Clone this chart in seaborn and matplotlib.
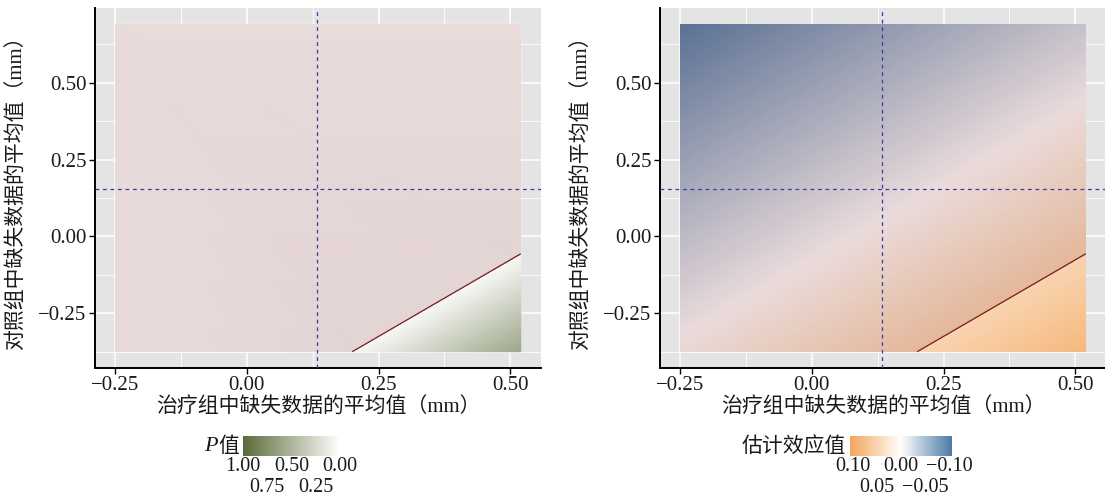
import numpy as np
import matplotlib.pyplot as plt
import matplotlib.tri as mtri
import matplotlib.transforms as mtrans
from matplotlib.colors import LinearSegmentedColormap, Normalize
from matplotlib.ticker import MultipleLocator, FuncFormatter
import seaborn as sns

# shift range of missing-data means (mm): treatment on x, control on y
treat_shift = [-0.25, 0.52]
control_shift = [-0.375, 0.69]

# estimated effect at the corners of the grid (rows: control low -> high)
effect_grid = [[0.005, 0.082],
               [-0.102, -0.025]]

# p-value samples (treatment shift, control shift, p)
p_treat = [-0.25, 0.52, -0.25, 0.205, 0.52, 0.52]
p_control = [0.69, 0.69, -0.375, -0.375, -0.063, -0.375]
p_value = [0.0, 0.0, 0.0, 0.05, 0.05, 0.60]

# effect where p crosses 0.05 (tipping line)
effect_at_p05 = 0.05

# observed means (reference point)
ref_treat = 0.134
ref_control = 0.154

p_ticks = [1.00, 0.75, 0.50, 0.25, 0.00]
effect_ticks = [0.10, 0.05, 0.00, -0.05, -0.10]

xlabel = "治疗组中缺失数据的平均值（mm）"
ylabel = "对照组中缺失数据的平均值（mm）"

sns.set_theme(style="darkgrid", rc={"axes.facecolor": "#E4E4E4",
                                     "grid.color": "white",
                                     "figure.facecolor": "white"})
plt.rcParams['font.family'] = ['Liberation Serif', 'Noto Sans CJK SC']
plt.rcParams['axes.unicode_minus'] = True


def fmt(v, _=None):
    return f"{v:.2f}".replace('-', '\u2212')


green = LinearSegmentedColormap.from_list('pval', ['white', '#5B6B38'])
diverge = LinearSegmentedColormap.from_list(
    'eff', [(0, '#4B79A5'), (0.5, 'white'), (1, '#F2A55A')])
p_norm = Normalize(0, 1)
e_norm = Normalize(-0.105, 0.105)

fig = plt.figure(figsize=(11.05, 4.97), dpi=100)
ax_p = fig.add_axes([0.086, 0.2596, 0.4036, 0.7243])
ax_e = fig.add_axes([0.5973, 0.2596, 0.4036, 0.7243])

X, Y = np.meshgrid(treat_shift, control_shift)
E = np.array(effect_grid)
tri = mtri.Triangulation(p_treat, p_control)

mesh_p = ax_p.tripcolor(tri, p_value, shading='gouraud', cmap=green, norm=p_norm, zorder=1)
# fine colour levels so the colormap is applied in data space
mesh_e = ax_e.contourf(X, Y, E, levels=np.linspace(-0.105, 0.105, 211),
                       cmap=diverge, norm=e_norm, zorder=1)

for ax in (ax_p, ax_e):
    # significant region overlay and tipping contour
    ax.contourf(X, Y, E, levels=[-1, effect_at_p05], colors=['#8B3A3A'], alpha=0.18, zorder=2)
    ax.contour(X, Y, E, levels=[effect_at_p05], colors=['#7A1F1F'], linewidths=0.9, zorder=3)
    ax.axvline(ref_treat, color='#3A3AAA', lw=0.9, ls=(0, (3, 3)), zorder=4)
    ax.axhline(ref_control, color='#3A3AAA', lw=0.9, ls=(0, (3, 3)), zorder=4)

    ax.set_xlim(-0.2885, 0.5585)
    ax.set_ylim(-0.428, 0.743)
    ax.xaxis.set_major_locator(MultipleLocator(0.25))
    ax.yaxis.set_major_locator(MultipleLocator(0.25))
    ax.xaxis.set_minor_locator(MultipleLocator(0.125))
    ax.yaxis.set_minor_locator(MultipleLocator(0.125))
    ax.xaxis.set_major_formatter(FuncFormatter(fmt))
    ax.yaxis.set_major_formatter(FuncFormatter(fmt))
    ax.grid(which='major', color='white', lw=1.1)
    ax.grid(which='minor', color='white', lw=0.6)
    for s in ('top', 'right'):
        ax.spines[s].set_visible(False)
    for s in ('left', 'bottom'):
        ax.spines[s].set_visible(True)
        ax.spines[s].set_color('black')
        ax.spines[s].set_linewidth(1.4)
    ax.tick_params(which='major', direction='out', length=4, width=1, color='black',
                   labelsize=15, pad=2, left=True, bottom=True, labelcolor='#1a1a1a')
    ax.tick_params(which='minor', length=0)
    ax.set_xlabel(xlabel, fontsize=15, labelpad=2, color='#1a1a1a')
    ax.set_ylabel(ylabel, fontsize=15, labelpad=8, color='#1a1a1a')


def add_bar(mappable, rect, ticks, title_parts):
    cax = fig.add_axes(rect)
    cb = fig.colorbar(mappable, cax=cax, orientation='horizontal')
    cb.outline.set_visible(False)
    cb.minorticks_off()
    cax.invert_xaxis()
    # first row of labels on the ticks, second row dodged below
    cb.set_ticks(ticks, labels=[fmt(t) if i % 2 == 0 else '' for i, t in enumerate(ticks)])
    cax.tick_params(axis='x', direction='in', length=4, width=1, color='white',
                    top=True, bottom=True, labelsize=14.5, pad=1, labelcolor='#1a1a1a')
    trans = mtrans.blended_transform_factory(cax.transData, cax.transAxes)
    for i, t in enumerate(ticks):
        if i % 2 == 1:
            cax.annotate(fmt(t), xy=(t, 0), xycoords=trans, xytext=(0, -23),
                         textcoords='offset points', ha='center', va='center',
                         fontsize=14.5, color='#1a1a1a', annotation_clip=False)
    off = -3
    for text, width, kw in reversed(title_parts):
        opts = {'fontsize': 15, 'color': '#1a1a1a'}
        opts.update(kw)
        cax.annotate(text, xy=(0, 0.5), xycoords='axes fraction', xytext=(off, 0),
                     textcoords='offset points', ha='right', va='center', **opts)
        off -= width
    return cb


add_bar(mesh_p, [0.2199, 0.0825, 0.0878, 0.0402], p_ticks,
        [("P", 10, {'family': 'Liberation Serif', 'fontstyle': 'italic', 'fontsize': 16}),
         ("值", 15, {'family': 'Noto Sans CJK SC'})])
add_bar(mesh_e, [0.7692, 0.0825, 0.0923, 0.0402], effect_ticks,
        [("估计效应值", 75, {'family': 'Noto Sans CJK SC'})])

fig.savefig('out.png', dpi=100)
